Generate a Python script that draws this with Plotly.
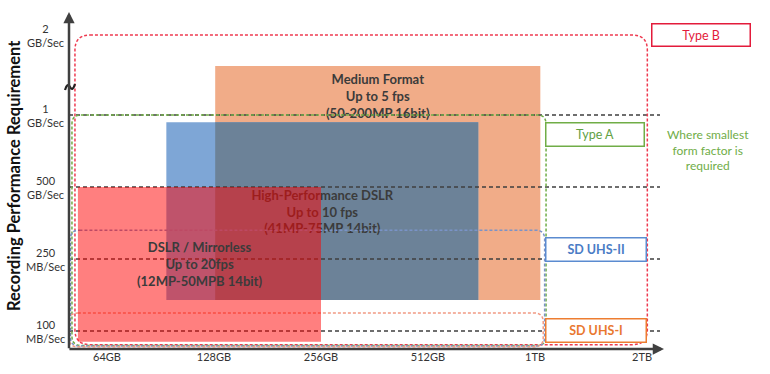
import numpy as np
import plotly.graph_objects as go

# ---------------- data ----------------
cap_ticks_gb = [64, 128, 256, 512, 1024, 2048]
cap_tick_labels = ["64GB", "128GB", "256GB", "512GB", "1TB", "2TB"]

speed_tick_pos = [0, 1, 2, 3, 4.1]          # broken (non-linear) speed scale
speed_tick_labels = ["100<br>MB/Sec", "250<br>MB/Sec", "500<br>GB/Sec",
                     "1<br>GB/Sec", "2<br>GB/Sec"]

camera_names = ["Medium Format", "High-Performance DSLR", "DSLR / Mirrorless"]
camera_fps = ["Up to 5 fps", "Up to 10 fps", "Up to 20fps"]
camera_res = ["(50-200MP 16bit)", "(41MP-75MP 14bit)", "(12MP-50MPB 14bit)"]
camera_cap_min_gb = [129, 94, 53]
camera_cap_max_gb = [1060, 709, 256]
camera_speed_min = [0.43, 0.43, -0.15]
camera_speed_max = [3.68, 2.90, 2.0]

card_names = ["Type B", "Type A", "SD UHS-II", "SD UHS-I"]
card_cap_min_gb = [52, 51, 50.5, 50]
card_cap_max_gb = [2120, 1100, 1090, 1080]
card_speed_min = [-0.19, -0.2, -0.21, -0.22]
card_speed_max = [4.11, 3.0, 1.40, 0.25]

# ---------------- styles ----------------
FONT = "Lato, 'Open Sans', sans-serif"
TXT = "#3B3B3B"
camera_colors = ["#F1AC88", "#7EA6D6", "rgba(255,0,0,0.5)"]
overlap_color = "#6C8298"
card_line_colors = ["#EE3A50", "#70AD47", "#7A93C8", "#F19A84"]
card_box_colors = ["#E31B3B", "#70AD47", "#5B8BD0", "#ED7D31"]
card_text_colors = ["#E31B3B", "#62A043", "#4A7CC5", "#E9782F"]

# page geometry (pixels)
W, H = 770, 374
PL, PR, PT, PB = 69, 664, 12, 349          # plot area edges
XPX0, XPX_UNIT = 107, 107                  # pixel of 64GB tick, pixels per octave
YPX0, YPX_UNIT = 331, 72

def gx(gb):
    return np.log2(np.asarray(gb, dtype=float) / 64.0)

xr = [(PL - XPX0) / XPX_UNIT, (PR - XPX0) / XPX_UNIT]
yr = [(YPX0 - PB) / YPX_UNIT, (YPX0 - PT) / YPX_UNIT]

def ppx(xp):
    return (xp - PL) / (PR - PL)

def ppy(yp):
    return (PB - yp) / (PB - PT)

cx0, cx1 = gx(camera_cap_min_gb), gx(camera_cap_max_gb)
kx0, kx1 = gx(card_cap_min_gb), gx(card_cap_max_gb)

fig = go.Figure()

def rect_trace(x0, x1, y0, y1, color):
    return go.Scatter(x=[x0, x1, x1, x0, x0], y=[y0, y0, y1, y1, y0],
                      mode="lines", fill="toself", fillcolor=color,
                      line=dict(width=0), hoverinfo="skip", showlegend=False)

fig.add_trace(rect_trace(cx0[0], cx1[0], camera_speed_min[0], camera_speed_max[0], camera_colors[0]))
fig.add_trace(rect_trace(cx0[1], cx1[1], camera_speed_min[1], camera_speed_max[1], camera_colors[1]))
ox0, ox1 = max(cx0[0], cx0[1]), min(cx1[0], cx1[1])
oy0, oy1 = max(camera_speed_min[0], camera_speed_min[1]), min(camera_speed_max[0], camera_speed_max[1])
fig.add_trace(rect_trace(ox0, ox1, oy0, oy1, overlap_color))

def label(i):
    return f"<b>{camera_names[i]}<br>{camera_fps[i]}<br>{camera_res[i]}</b>"

fig.add_trace(go.Scatter(
    x=[(cx0[0] + cx1[0]) / 2, (cx0[1] + cx1[1]) / 2],
    y=[camera_speed_max[0] - 0.44, (camera_speed_min[1] + camera_speed_max[1]) / 2 - 0.03],
    mode="text", text=[label(0), label(1)],
    textfont=dict(family=FONT, size=13, color=TXT),
    textposition="middle center", hoverinfo="skip", showlegend=False))

shapes = []
for v in speed_tick_pos[:4]:
    shapes.append(dict(type="line", xref="x", yref="y", x0=xr[0], x1=(660 - XPX0) / XPX_UNIT,
                       y0=v, y1=v, layer="above",
                       line=dict(color="#3F3F3F", width=1.5, dash="4px,3px")))

def rounded(x0, x1, y0, y1, r):
    rx, ry = r / XPX_UNIT, r / YPX_UNIT
    return (f"M {x0+rx},{y1} L {x1-rx},{y1} Q {x1},{y1} {x1},{y1-ry} "
            f"L {x1},{y0+ry} Q {x1},{y0} {x1-rx},{y0} L {x0+rx},{y0} "
            f"Q {x0},{y0} {x0},{y0+ry} L {x0},{y1-ry} Q {x0},{y1} {x0+rx},{y1} Z")

radii = [15, 9, 9, 9]
for i in range(4):
    shapes.append(dict(type="path", xref="x", yref="y", layer="above",
                       path=rounded(kx0[i], kx1[i], card_speed_min[i], card_speed_max[i], radii[i]),
                       line=dict(color=card_line_colors[i], width=1.5, dash="3px,2px")))

shapes.append(dict(type="rect", xref="x", yref="y", layer="above",
                   x0=cx0[2], x1=cx1[2], y0=camera_speed_min[2], y1=camera_speed_max[2],
                   fillcolor=camera_colors[2], line=dict(width=0)))

# axis-break squiggle on the y axis
shapes.append(dict(type="path", xref="paper", yref="paper", layer="above",
                   path=(f"M {ppx(65)},{ppy(90)} Q {ppx(67.5)},{ppy(82)} {ppx(70)},{ppy(87)} "
                         f"Q {ppx(72.5)},{ppy(92)} {ppx(75)},{ppy(84)}"),
                   line=dict(color="#222222", width=2.2)))

ann = []
ann.append(dict(xref="x", yref="y", x=(cx0[2] + cx1[2]) / 2,
                y=(camera_speed_min[2] + camera_speed_max[2]) / 2,
                text=label(2), showarrow=False, xanchor="center", yanchor="middle",
                font=dict(family=FONT, size=13, color=TXT)))

for v, t in zip(speed_tick_pos, speed_tick_labels):
    ann.append(dict(xref="paper", yref="y", x=ppx(45), y=v, text=t, showarrow=False,
                    align="center", xanchor="center", yanchor="middle",
                    font=dict(family=FONT, size=11, color="#333333")))

ann.append(dict(xref="x", yref="y", axref="x", ayref="y",
                x=xr[1], y=yr[0], ax=xr[0] - 0.01, ay=yr[0], text="",
                showarrow=True, arrowhead=2, arrowsize=0.9, arrowwidth=2.5,
                arrowcolor="#404040", standoff=0))
ann.append(dict(xref="x", yref="y", axref="x", ayref="y",
                x=xr[0], y=yr[1], ax=xr[0], ay=yr[0] - 0.01, text="",
                showarrow=True, arrowhead=2, arrowsize=0.9, arrowwidth=2.5,
                arrowcolor="#404040", standoff=0))

ann.append(dict(xref="paper", yref="paper", x=ppx(14), y=ppy(176),
                text="<b>Recording Performance Requirement</b>", textangle=-90,
                showarrow=False, xanchor="center", yanchor="middle",
                font=dict(family=FONT, size=16.5, color="#111111")))

box_geo = [(701, 35, 95, 19), (595, 134, 95, 20), (596, 249, 97, 20), (596, 330, 97, 20)]
for i, (bx, by, bw, bh) in enumerate(box_geo):
    bold = i >= 2
    t = f"<b>{card_names[i]}</b>" if bold else card_names[i]
    ann.append(dict(xref="paper", yref="paper", x=ppx(bx), y=ppy(by), text=t,
                    showarrow=False, width=bw, height=bh, bgcolor="white",
                    bordercolor=card_box_colors[i], borderwidth=1.5, borderpad=1,
                    xanchor="center", yanchor="middle",
                    font=dict(family=FONT, size=12.5, color=card_text_colors[i])))

ann.append(dict(xref="paper", yref="paper", x=ppx(708), y=ppy(150),
                text="Where smallest<br>form factor is<br>required", showarrow=False,
                align="center", xanchor="center", yanchor="middle",
                font=dict(family=FONT, size=12, color="#70AD47")))

fig.update_layout(
    width=W, height=H,
    margin=dict(l=PL, r=W - PR, t=PT, b=H - PB),
    paper_bgcolor="white", plot_bgcolor="white", showlegend=False,
    font=dict(family=FONT), hovermode=False,
    shapes=shapes, annotations=ann,
    xaxis=dict(range=xr, tickvals=list(gx(cap_ticks_gb)), ticktext=cap_tick_labels,
               showgrid=False, zeroline=False, showline=False, ticks="",
               tickfont=dict(family=FONT, size=11, color="#333333"), fixedrange=True),
    yaxis=dict(range=yr, showgrid=False, zeroline=False, showline=False,
               showticklabels=False, ticks="", fixedrange=True),
)

fig.write_html("out.html", config={"displayModeBar": False, "staticPlot": True},
               post_script="document.body.style.margin='0px';document.body.style.overflow='hidden';")
